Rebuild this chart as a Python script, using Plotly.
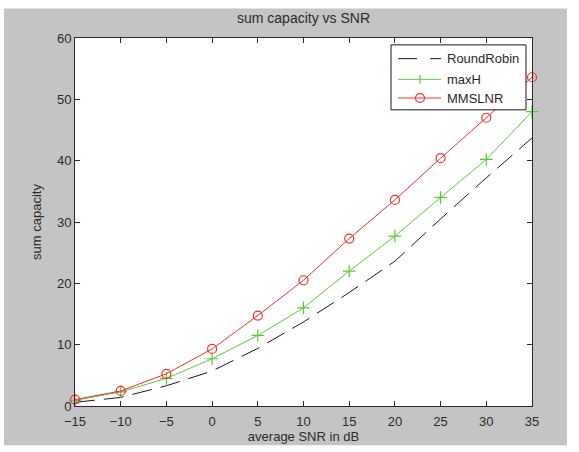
import plotly.graph_objects as go

snr_db = [-15, -10, -5, 0, 5, 10, 15, 20, 25, 30, 35]
round_robin = [0.6, 1.4, 3.3, 5.7, 9.4, 13.7, 18.5, 23.6, 30.5, 37.2, 43.7]
max_h = [0.9, 2.3, 4.5, 7.7, 11.5, 16.0, 22.0, 27.7, 34.0, 40.2, 48.0]
mmslnr = [1.05, 2.45, 5.25, 9.3, 14.75, 20.5, 27.3, 33.6, 40.4, 47.0, 53.6]

series_names = ["RoundRobin", "maxH", "MMSLNR"]
x_ticks = [-15, -10, -5, 0, 5, 10, 15, 20, 25, 30, 35]
y_ticks = [0, 10, 20, 30, 40, 50, 60]

FONT = "Arial, Liberation Sans, Helvetica, sans-serif"
TXT = "#2a2a2a"
BLACK = "#1a1a1a"
GREEN = "#5cc83c"
RED = "#f03030"
W, H = 579, 452
L, R, T, B = 75, 47, 38, 40
pw, ph = W - L - R, H - T - B


def px(xp):
    return (xp - L) / pw


def py(yp):
    return (H - B - yp) / ph


fig = go.Figure()
fig.add_trace(go.Scatter(
    x=snr_db, y=round_robin, name=series_names[0], mode="lines",
    line=dict(color=BLACK, width=1, dash="20px,9px"), showlegend=False))
fig.add_trace(go.Scatter(
    x=snr_db, y=max_h, name=series_names[1], mode="lines+markers",
    line=dict(color=GREEN, width=1), cliponaxis=False,
    marker=dict(symbol="cross-thin-open", size=9, color=GREEN,
                line=dict(color=GREEN, width=1.2)), showlegend=False))
fig.add_trace(go.Scatter(
    x=snr_db, y=mmslnr, name=series_names[2], mode="lines+markers",
    line=dict(color=RED, width=1), cliponaxis=False,
    marker=dict(symbol="circle-open", size=9, color=RED,
                line=dict(color=RED, width=1.2)), showlegend=False))

# gray figure background frame (MATLAB style) and white axes area
fig.add_shape(type="rect", xref="paper", yref="paper", layer="below",
              x0=px(4), x1=px(567), y0=py(452), y1=py(8),
              fillcolor="#c4c4c4", line=dict(width=0))
fig.add_shape(type="rect", xref="paper", yref="paper", layer="below",
              x0=0, x1=1, y0=0, y1=1, fillcolor="white", line=dict(width=0))

# legend box drawn by hand (MATLAB style)
fig.add_shape(type="rect", xref="paper", yref="paper",
              x0=px(391), x1=px(526), y0=py(111), y1=py(45),
              fillcolor="white", line=dict(color=BLACK, width=1))
rows_y = [59, 80, 99]
styles = [(BLACK, "19px,13px"), (GREEN, "solid"), (RED, "solid")]
for name, ry, (col, dsh) in zip(series_names, rows_y, styles):
    fig.add_shape(type="line", xref="paper", yref="paper",
                  x0=px(398), x1=px(441), y0=py(ry), y1=py(ry),
                  line=dict(color=col, width=1, dash=dsh))
    fig.add_annotation(text=name, xref="paper", yref="paper",
                       x=px(445), y=py(ry), xanchor="left", yanchor="middle",
                       showarrow=False,
                       font=dict(family=FONT, size=13, color=TXT))
# legend markers
fig.add_shape(type="line", xref="paper", yref="paper",
              x0=px(420), x1=px(420), y0=py(84.5), y1=py(75.5),
              line=dict(color=GREEN, width=1.2))
fig.add_shape(type="circle", xref="paper", yref="paper",
              x0=px(415.5), x1=px(424.5), y0=py(103.5), y1=py(94.5),
              line=dict(color=RED, width=1.2))

axis_common = dict(
    showgrid=False, zeroline=False, showline=True, linecolor=TXT,
    linewidth=1, mirror="ticks", ticks="inside", ticklen=5,
    tickcolor=TXT, tickfont=dict(family=FONT, size=13, color=TXT),
)

fig.update_layout(
    width=W, height=H,
    margin=dict(l=L, r=R, t=T, b=B),
    paper_bgcolor="white", plot_bgcolor="white",
    font=dict(family=FONT, size=13, color=TXT),
    title=dict(text="sum capacity vs SNR", x=(L + pw / 2) / W, xanchor="center",
               y=1 - 18 / H, yanchor="middle",
               font=dict(family=FONT, size=14, color=TXT)),
    xaxis=dict(range=[-15, 35], tickvals=x_ticks, ticklabelstandoff=3,
               title=dict(text="average SNR in dB", standoff=2,
                          font=dict(family=FONT, size=13, color=TXT)),
               **axis_common),
    yaxis=dict(range=[0, 60], tickvals=y_ticks,
               title=dict(text="sum capacity", standoff=12,
                          font=dict(family=FONT, size=13, color=TXT)),
               **axis_common),
    showlegend=False,
)

fig.write_html("out.html", config={"displayModeBar": False},
               post_script="document.body.style.margin='0px';")
